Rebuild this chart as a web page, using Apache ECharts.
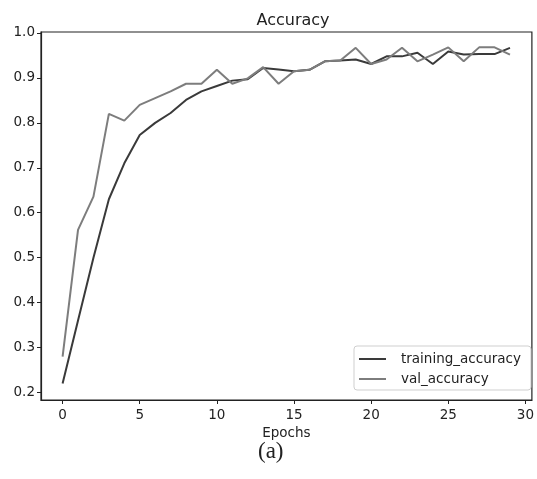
<!DOCTYPE html>
<html>
<head>
<meta charset="utf-8">
<script src="https://cdn.jsdelivr.net/npm/echarts@6/dist/echarts.min.js"></script>
<style>
  html, body { margin: 0; padding: 0; background: #fff; }
  #chart { width: 537px; height: 479px; }
</style>
</head>
<body>
<div id="chart"></div>
<script>
// epochs 0..29
const epochs = [0,1,2,3,4,5,6,7,8,9,10,11,12,13,14,15,16,17,18,19,20,21,22,23,24,25,26,27,28,29];
const trainingAccuracy = [0.22,0.36,0.50,0.63,0.71,0.773,0.80,0.822,0.851,0.87,0.882,0.894,0.897,0.922,0.919,0.915,0.918,0.937,0.939,0.941,0.931,0.948,0.948,0.956,0.931,0.959,0.952,0.953,0.953,0.967];
const valAccuracy = [0.28,0.562,0.636,0.82,0.805,0.84,0.855,0.87,0.887,0.887,0.918,0.887,0.899,0.924,0.887,0.915,0.918,0.937,0.939,0.967,0.931,0.941,0.967,0.937,0.952,0.968,0.937,0.968,0.968,0.952];
const xTicks = [0,5,10,15,20,25,30];
const yTicks = [0.2,0.3,0.4,0.5,0.6,0.7,0.8,0.9,1.0];

const font = 'DejaVu Sans';
const chart = echarts.init(document.getElementById('chart'));

const pairs = (ys) => epochs.map((x, i) => [x, ys[i]]);

chart.setOption({
  animation: false,
  title: {
    text: 'Accuracy',
    left: 288,
    top: 8,
    textAlign: 'center',
    textStyle: { fontFamily: font, fontSize: 16, fontWeight: 'normal', color: '#222' }
  },
  grid: {
    left: 41, top: 32, right: 1, bottom: 79,
    show: true, borderColor: '#222', borderWidth: 1.2, backgroundColor: '#fff'
  },
  legend: {
    orient: 'vertical',
    left: 354,
    top: 346,
    padding: [6, 10, 4, 5],
    itemGap: 6,
    itemWidth: 27,
    itemHeight: 2,
    icon: 'rect',
    borderColor: '#cfcfcf',
    borderWidth: 1,
    borderRadius: 3,
    backgroundColor: '#fff',
    textStyle: { fontFamily: font, fontSize: 13.5, color: '#222', padding: [0, 0, 0, 10] },
    data: ['training_accuracy', 'val_accuracy']
  },
  xAxis: {
    type: 'value',
    min: -1.4,
    max: 30.42,
    name: 'Epochs',
    nameLocation: 'middle',
    nameGap: 22,
    nameTextStyle: { fontFamily: font, fontSize: 13.5, color: '#222' },
    splitLine: { show: false },
    axisLine: { show: true, onZero: false, lineStyle: { color: '#222', width: 1.2 } },
    axisTick: { show: true, length: 4, customValues: xTicks, lineStyle: { color: '#222' } },
    axisLabel: { customValues: xTicks, fontFamily: font, fontSize: 13.5, color: '#222', margin: 8 }
  },
  yAxis: {
    type: 'value',
    min: 0.1833,
    max: 1.0022,
    splitLine: { show: false },
    axisLine: { show: true, onZero: false, lineStyle: { color: '#222', width: 1.2 } },
    axisTick: { show: true, length: 4, customValues: yTicks, lineStyle: { color: '#222' } },
    axisLabel: {
      customValues: yTicks, fontFamily: font, fontSize: 13.5, color: '#222', margin: 6,
      formatter: (v) => v.toFixed(1)
    }
  },
  graphic: [{
    type: 'text',
    left: 258,
    top: 440,
    style: { text: '(a)', fontFamily: 'Liberation Serif', fontSize: 23, fill: '#222' }
  }],
  series: [
    {
      name: 'training_accuracy',
      type: 'line',
      data: pairs(trainingAccuracy),
      symbol: 'none',
      lineStyle: { color: '#3a3a3a', width: 2 },
      itemStyle: { color: '#3a3a3a' }
    },
    {
      name: 'val_accuracy',
      type: 'line',
      data: pairs(valAccuracy),
      symbol: 'none',
      lineStyle: { color: '#7d7d7d', width: 2 },
      itemStyle: { color: '#7d7d7d' }
    }
  ]
});
</script>
</body>
</html>
